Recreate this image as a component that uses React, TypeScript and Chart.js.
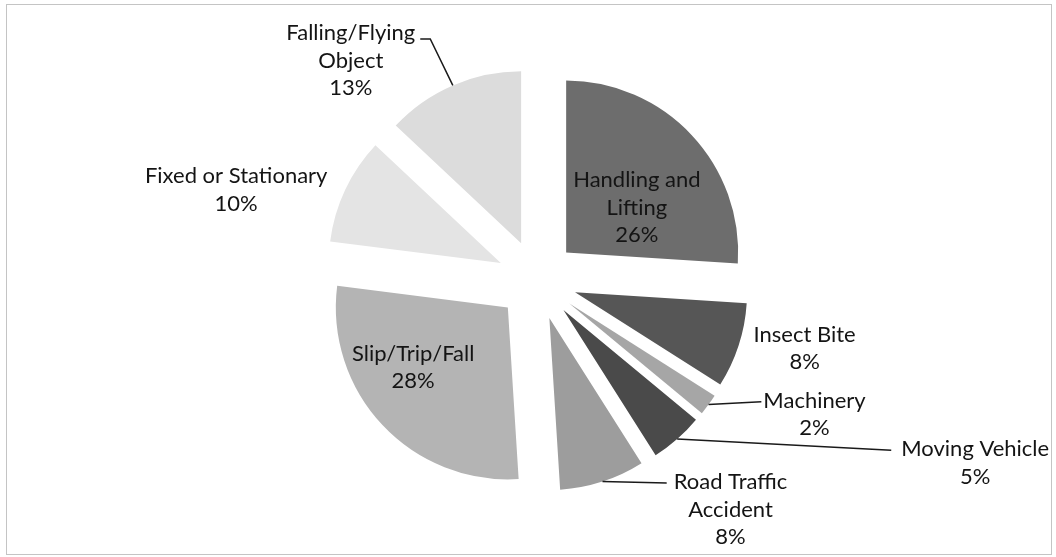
import React, { useEffect, useRef } from 'react';
import { Chart, registerables } from 'chart.js';

Chart.register(...registerables);

// ---- data ----
const categories = [
  'Handling and Lifting',
  'Insect Bite',
  'Machinery',
  'Moving Vehicle',
  'Road Traffic Accident',
  'Slip/Trip/Fall',
  'Fixed or Stationary',
  'Falling/Flying Object',
];
const values = [26, 8, 2, 5, 8, 28, 10, 13];
const labelLines = [
  ['Handling and', 'Lifting'],
  ['Insect Bite'],
  ['Machinery'],
  ['Moving Vehicle'],
  ['Road Traffic', 'Accident'],
  ['Slip/Trip/Fall'],
  ['Fixed or Stationary'],
  ['Falling/Flying', 'Object'],
];
const colors = ['#6d6d6d', '#565656', '#a6a6a6', '#4a4a4a', '#9d9d9d', '#b4b4b4', '#e4e4e4', '#dcdcdc'];

// ---- style / layout ----
const W = 1056;
const H = 557;
const RADIUS = 172;
const SHIFT = 40; // explosion distance in px
const FONT = '22px Lato';
const LINE_H = 27.5;

type LabelLayout = { inside: boolean; dx: number; dy: number; leader: 'none' | 'left' | 'hook'; gap?: number };
const labelLayout: LabelLayout[] = [
  { inside: true, dx: 8, dy: 14, leader: 'none' },
  { inside: false, dx: 66, dy: 3, leader: 'none' },
  { inside: false, dx: 106, dy: 10, leader: 'left', gap: 2 },
  { inside: false, dx: 298, dy: 24, leader: 'left', gap: 10 },
  { inside: false, dx: 128, dy: 28, leader: 'left', gap: 7 },
  { inside: true, dx: -32, dy: 1, leader: 'none' },
  { inside: false, dx: -109, dy: 0, leader: 'none' },
  { inside: false, dx: -102, dy: -25, leader: 'hook', gap: 5 },
];

// Chart.js enlarges and narrows thin arcs when `offset` is used; undo that so every
// exploded slice keeps the same radius and its true angle.
const equalRadiusPlugin = {
  id: 'equalRadius',
  afterDatasetUpdate(chart: any, args: any) {
    const meta = chart.getDatasetMeta(args.index);
    meta.data.forEach((arc: any) => {
      const fix = 1 - Math.sin(Math.min(Math.PI, arc.circumference || 0));
      const ro = SHIFT * fix;
      arc.outerRadius = RADIUS - ro;
      const delta = ro / Math.PI / RADIUS;
      arc.startAngle -= delta / 2;
      arc.endAngle += delta / 2;
    });
  },
};

const labelPlugin = {
  id: 'sliceLabels',
  afterDatasetsDraw(chart: any) {
    const ctx = chart.ctx as CanvasRenderingContext2D;
    const meta = chart.getDatasetMeta(0);
    const total = values.reduce((a, b) => a + b, 0);
    ctx.save();
    ctx.font = FONT;
    ctx.textAlign = 'center';
    ctx.textBaseline = 'middle';
    meta.data.forEach((arc: any, i: number) => {
      const { x, y, startAngle, endAngle } = arc;
      const mid = (startAngle + endAngle) / 2;
      const ax = x + Math.cos(mid) * SHIFT;
      const ay = y + Math.sin(mid) * SHIFT;
      const L = labelLayout[i];
      const r = L.inside ? RADIUS * 0.5 : RADIUS;
      const px = ax + Math.cos(mid) * r;
      const py = ay + Math.sin(mid) * r;
      const cx = px + L.dx;
      const cy = py + L.dy;
      const lines = [...labelLines[i], Math.round((values[i] / total) * 100) + '%'];
      const n = lines.length;
      const firstY = cy - ((n - 1) / 2) * LINE_H;
      ctx.fillStyle = '#141414';
      lines.forEach((t, j) => ctx.fillText(t, cx, firstY + j * LINE_H));
      const w0 = ctx.measureText(lines[0]).width;
      ctx.strokeStyle = '#1a1a1a';
      ctx.lineWidth = 1.5;
      if (L.leader === 'left') {
        ctx.beginPath();
        ctx.moveTo(px, py);
        ctx.lineTo(cx - w0 / 2 - (L.gap || 0), firstY + 1);
        ctx.stroke();
      } else if (L.leader === 'hook') {
        const hx = cx + w0 / 2 + (L.gap || 0);
        ctx.beginPath();
        ctx.moveTo(hx, firstY + 6);
        ctx.lineTo(hx + 10, firstY + 6);
        ctx.lineTo(px, py);
        ctx.stroke();
      }
    });
    ctx.restore();
  },
};

export default function App() {
  const canvasRef = useRef<HTMLCanvasElement | null>(null);

  useEffect(() => {
    if (!canvasRef.current) return;
    const chart = new Chart(canvasRef.current, {
      type: 'pie',
      data: {
        labels: categories,
        datasets: [
          {
            data: values,
            backgroundColor: colors,
            borderWidth: 0,
            offset: SHIFT * 4,
          },
        ],
      },
      options: {
        responsive: false,
        animation: false,
        events: [],
        radius: RADIUS,
        layout: { padding: { left: 18, top: 3, right: 0, bottom: 0 } },
        plugins: {
          legend: { display: false },
          tooltip: { enabled: false },
        },
      } as any,
      plugins: [equalRadiusPlugin, labelPlugin],
    });
    return () => chart.destroy();
  }, []);

  return (
    <div style={{ position: 'absolute', left: 0, top: 0, width: W, height: H, background: '#ffffff' }}>
      <canvas ref={canvasRef} width={W} height={H} style={{ display: 'block' }} />
      <div
        style={{
          position: 'absolute',
          left: 6,
          top: 4,
          width: 1044,
          height: 549,
          border: '1px solid #c4c4c4',
          pointerEvents: 'none',
        }}
      />
    </div>
  );
}
